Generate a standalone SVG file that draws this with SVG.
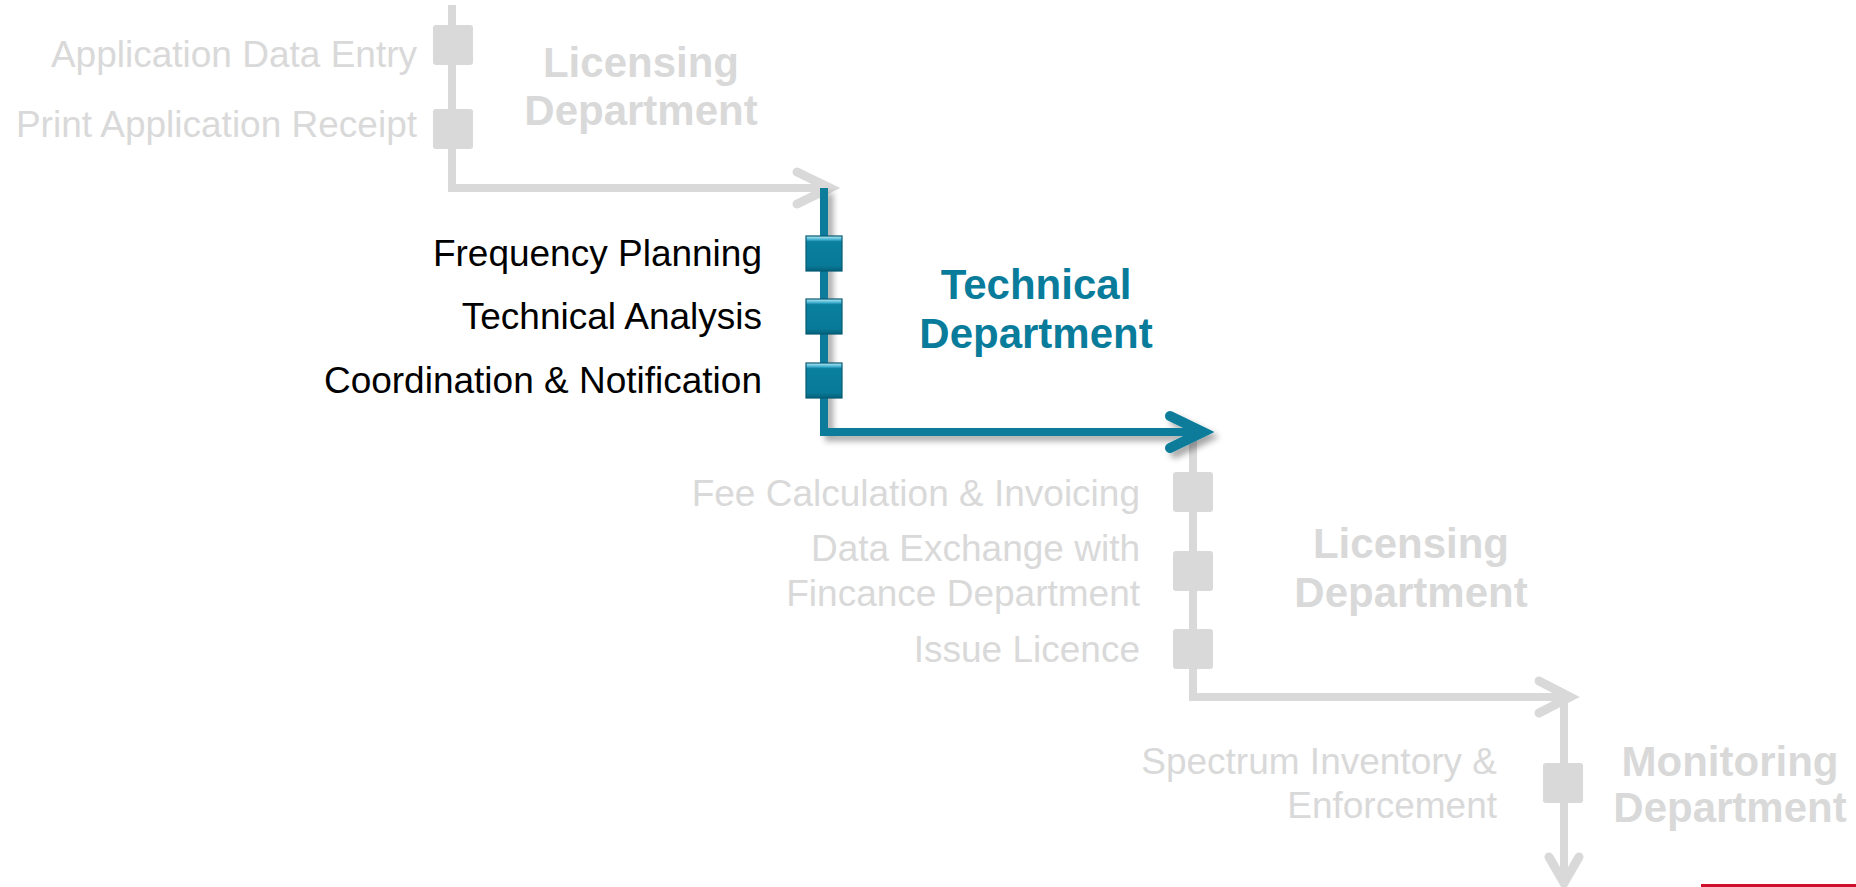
<svg xmlns="http://www.w3.org/2000/svg" width="1856" height="887" viewBox="0 0 1856 887">
<style>
.lbl{font-family:"Liberation Sans",Arial,sans-serif;font-size:37px;text-anchor:end}
.dept{font-family:"Liberation Sans",Arial,sans-serif;font-size:42px;font-weight:bold;text-anchor:middle}
.g{fill:#d9d9d9}
.k{fill:#000}
.b{fill:#087c9a}
.gl{fill:none;stroke:#d9d9d9;stroke-width:8}
.ga{fill:none;stroke:#d9d9d9;stroke-width:9;stroke-linecap:round;stroke-linejoin:miter}
.bl{fill:none;stroke:#087c9a;stroke-width:8}
.ba{fill:none;stroke:#087c9a;stroke-width:10;stroke-linecap:round;stroke-linejoin:miter}
.gbox{fill:#d9d9d9}
.bbox{fill:url(#bgrad);stroke:#055a72;stroke-width:1.2}
</style>
<defs>
<linearGradient id="bgrad" x1="0" y1="0" x2="0" y2="1">
<stop offset="0" stop-color="#bfeefa"/>
<stop offset="0.1" stop-color="#46b3d0"/>
<stop offset="0.16" stop-color="#0a7f9e"/>
<stop offset="0.85" stop-color="#087a98"/>
<stop offset="1" stop-color="#05607a"/>
</linearGradient>
<filter id="sh" x="-10%" y="-10%" width="130%" height="130%">
<feDropShadow dx="5" dy="5" stdDeviation="3" flood-color="#000" flood-opacity="0.35"/>
</filter>
</defs>
<g id="connectors">
<path class="gl" d="M452 5 V188 H826"/>
<path class="ga" d="M797 172 L830 188 L797 204"/>
<path class="gl" d="M1193 432 V697 H1566"/>
<path class="ga" d="M1539 681 L1570 697 L1539 713"/>
<path class="gl" d="M1564 697 V878"/>
<path class="ga" d="M1549 857 L1564 883 L1579 857"/>
<g filter="url(#sh)">
<path class="bl" d="M824 188 V432 H1198"/>
<path class="ba" d="M1170 416 L1203 432 L1170 448"/>
</g>
</g>
<g id="node-app-entry">
<rect class="gbox" x="433" y="25" width="40" height="40" rx="3"/>
<text class="lbl g" x="417" y="67">Application Data Entry</text>
</g>
<g id="node-print-receipt">
<rect class="gbox" x="433" y="109" width="40" height="40" rx="3"/>
<text class="lbl g" x="417" y="137">Print Application Receipt</text>
</g>
<g id="dept-licensing-1">
<text class="dept g" x="641" y="77">Licensing</text>
<text class="dept g" x="641" y="125">Department</text>
</g>
<g id="node-freq-planning">
<rect class="bbox" x="806" y="236" width="36" height="35"/>
<text class="lbl k" x="762" y="266">Frequency Planning</text>
</g>
<g id="node-tech-analysis">
<rect class="bbox" x="806" y="299" width="36" height="35"/>
<text class="lbl k" x="762" y="329">Technical Analysis</text>
</g>
<g id="node-coordination">
<rect class="bbox" x="806" y="363" width="36" height="35"/>
<text class="lbl k" x="762" y="393">Coordination &amp; Notification</text>
</g>
<g id="dept-technical">
<text class="dept b" x="1036" y="299">Technical</text>
<text class="dept b" x="1036" y="348">Department</text>
</g>
<g id="node-fee">
<rect class="gbox" x="1173" y="472" width="40" height="40" rx="3"/>
<text class="lbl g" x="1140" y="506">Fee Calculation &amp; Invoicing</text>
</g>
<g id="node-data-exchange">
<rect class="gbox" x="1173" y="551" width="40" height="40" rx="3"/>
<text class="lbl g" x="1140" y="561">Data Exchange with</text>
<text class="lbl g" x="1140" y="606">Fincance Department</text>
</g>
<g id="node-issue-licence">
<rect class="gbox" x="1173" y="629" width="40" height="40" rx="3"/>
<text class="lbl g" x="1140" y="662">Issue Licence</text>
</g>
<g id="dept-licensing-2">
<text class="dept g" x="1411" y="558">Licensing</text>
<text class="dept g" x="1411" y="607">Department</text>
</g>
<g id="node-spectrum">
<rect class="gbox" x="1543" y="763" width="40" height="40" rx="3"/>
<text class="lbl g" x="1497" y="774">Spectrum Inventory &amp;</text>
<text class="lbl g" x="1497" y="818">Enforcement</text>
</g>
<g id="dept-monitoring">
<text class="dept g" x="1730" y="776">Monitoring</text>
<text class="dept g" x="1730" y="822">Department</text>
</g>
<rect x="1701" y="884" width="155" height="3" fill="#d0102a"/>
</svg>
